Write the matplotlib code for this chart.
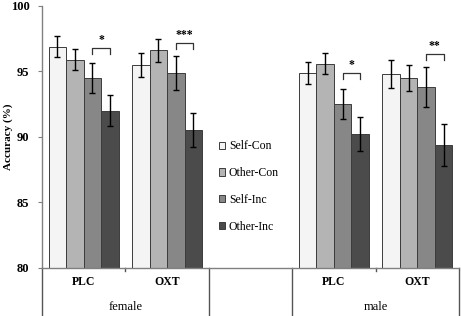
import numpy as np
import matplotlib
matplotlib.use("Agg")
import matplotlib.pyplot as plt
from matplotlib.lines import Line2D

# data
conditions = ["Self-Con", "Other-Con", "Self-Inc", "Other-Inc"]
drugs = ["PLC", "OXT"]
sexes = ["female", "male"]

female_plc = [96.9, 95.9, 94.5, 92.0]
female_oxt = [95.5, 96.6, 94.9, 90.5]
male_plc = [94.9, 95.6, 92.5, 90.2]
male_oxt = [94.8, 94.5, 93.8, 89.4]

female_plc_err = [0.8, 0.8, 1.15, 1.2]
female_oxt_err = [0.9, 0.9, 1.3, 1.3]
male_plc_err = [0.85, 0.8, 1.15, 1.3]
male_oxt_err = [1.05, 1.0, 1.5, 1.6]

# significance brackets (Self-Inc vs Other-Inc): height, label
sig_heights = [96.8, 97.2, 94.9, 96.3]
sig_labels = ["*", "***", "*", "**"]

colors = ["#f4f4f4", "#b4b4b4", "#878787", "#4b4b4b"]

plt.rcParams["font.family"] = ["Liberation Serif", "DejaVu Serif"]

# group layout: slot 2 is left empty between the sexes
slots = [0, 1, 3, 4]
means = np.array([female_plc, female_oxt, male_plc, male_oxt])
errs = np.array([female_plc_err, female_oxt_err, male_plc_err, male_oxt_err])

fig = plt.figure(figsize=(4.61, 3.16), dpi=100)
ax = fig.add_axes([42 / 461, 1 - 267.7 / 316, 417 / 461, 261.7 / 316])

w = 0.21
offsets = (np.arange(4) - 1.5) * w
for j, cond in enumerate(conditions):
    ax.bar(np.array(slots) + offsets[j], means[:, j], width=w, bottom=0,
           color=colors[j], edgecolor="#3c3c3c", linewidth=0.7, label=cond,
           zorder=2)
    ax.errorbar(np.array(slots) + offsets[j], means[:, j], yerr=errs[:, j],
                fmt="none", ecolor="black", elinewidth=1.0, capsize=2.3,
                capthick=1.0, zorder=3)

# brackets between Self-Inc and Other-Inc
for s, h, lab in zip(slots, sig_heights, sig_labels):
    x1, x2 = s + offsets[2], s + offsets[3]
    ax.plot([x1, x1, x2, x2], [h - 0.45, h, h, h - 0.45], color="#333333",
            lw=0.9, zorder=4)
    ax.text((x1 + x2) / 2, h + 0.15, lab, ha="center", va="bottom",
            fontsize=8.5, fontweight="bold")

ax.set_ylim(80, 100)
ax.set_xlim(-0.5, 4.5)
ax.set_yticks([80, 85, 90, 95, 100])
ax.set_yticklabels(["80", "85", "90", "95", "100"], fontsize=9,
                   fontweight="bold")
ax.set_xticks([])
ax.tick_params(axis="y", direction="out", length=3, color="#808080", pad=6)
ax.set_ylabel("Accuracy (%)", fontsize=8, fontweight="bold")
ax.yaxis.set_label_coords((13 - 42) / 417, 0.5)
for side in ("top", "right"):
    ax.spines[side].set_visible(False)
for side in ("left", "bottom"):
    ax.spines[side].set_color("#808080")
    ax.spines[side].set_linewidth(1.0)

# multi-level category axis below the plot
trans = ax.get_xaxis_transform()
ybot = -(316 - 267.7) / 261.7
for x in (-0.5, 1.5, 2.5, 4.5):
    ax.add_line(Line2D([x, x], [0, ybot], transform=trans, color="#555555",
                       lw=1.0, clip_on=False))
for x in (0.5, 3.5):
    ax.add_line(Line2D([x, x], [0, -0.012], transform=trans, color="#555555",
                       lw=1.0, clip_on=False))
for s, name in zip(slots, drugs * 2):
    ax.text(s, -(282 - 267.7) / 261.7, name, transform=trans, ha="center",
            va="center", fontsize=8.5, fontweight="bold")
for x, name in zip((0.5, 3.5), sexes):
    ax.text(x, -(307 - 267.7) / 261.7, name, transform=trans, ha="center",
            va="center", fontsize=9)

ax.legend(loc="center left", bbox_to_anchor=((213 - 42) / 417, 0.31),
          frameon=False, fontsize=8.5, handlelength=0.55, handleheight=0.55,
          handletextpad=0.3, labelspacing=1.25, borderpad=0)

fig.savefig("out.png", dpi=100)
